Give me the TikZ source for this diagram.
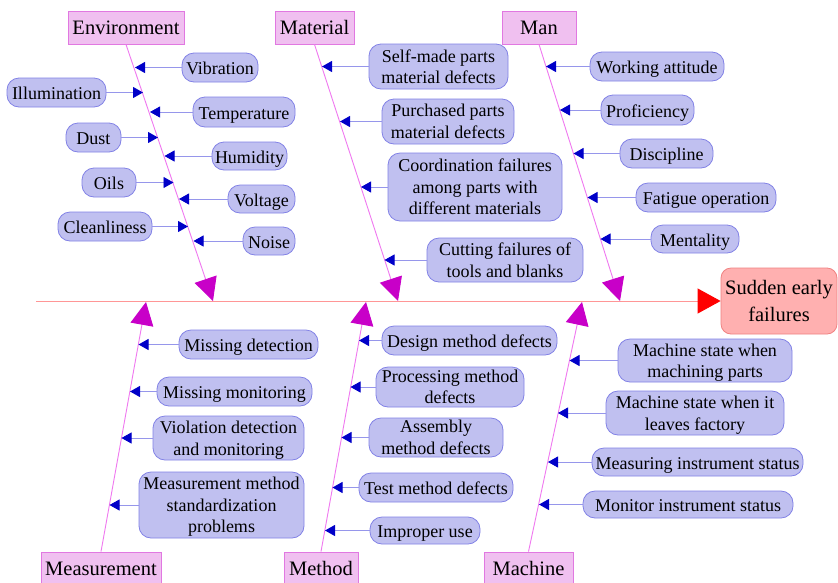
\documentclass[tikz,border=0pt]{standalone}
\usepackage{fontspec}
\setmainfont{Liberation Serif}
\newfontfamily\tnr{Liberation Serif}
\usetikzlibrary{arrows.meta}
\definecolor{cfill}{RGB}{192,192,240}
\definecolor{cdraw}{RGB}{130,130,230}
\definecolor{aline}{RGB}{150,150,235}
\definecolor{ahead}{RGB}{0,0,200}
\definecolor{kfill}{RGB}{240,192,240}
\definecolor{kdraw}{RGB}{225,120,225}
\definecolor{bline}{RGB}{240,120,240}
\definecolor{bhead}{RGB}{200,0,200}
\definecolor{sline}{RGB}{255,150,150}
\definecolor{efill}{RGB}{255,176,176}
\definecolor{edraw}{RGB}{240,130,130}
\tikzset{
 cause/.style={draw=cdraw, fill=cfill, rounded corners=12pt, line width=0.8pt, inner sep=0pt, align=center, font=\tnr\fontsize{18}{21.5}\selectfont},
 oneline/.style={text height=16pt, text depth=2pt},
 carrow/.style={draw=aline, line width=0.9pt, -{Triangle[length=10pt,width=11pt,color=ahead]}},
 cat/.style={draw=kdraw, fill=kfill, line width=0.8pt, inner sep=0pt, minimum height=33pt, text height=15.5pt, text depth=2.5pt, font=\tnr\fontsize{20.5}{25}\selectfont},
 bone/.style={draw=bline, line width=0.9pt, -{Triangle[length=23pt,width=23pt,color=bhead]}},
 spine/.style={draw=sline, line width=0.9pt, -{Triangle[length=23pt,width=25pt,color=red]}},
 effect/.style={draw=edraw, fill=efill, rounded corners=10pt, line width=0.8pt, inner sep=0pt, align=center, minimum width=116pt, minimum height=66pt, font=\tnr\fontsize{20.5}{26.5}\selectfont},
}
\newcommand\mkcause[8][]{%
 \node[cause,#1,minimum width=#5pt,minimum height=#6pt] (#2) at (#3,#4) {#8};
 \coordinate (t#2) at (#7,#4);
 \draw[carrow] (#2) -- (t#2);}
\begin{document}
\begin{tikzpicture}[x=1pt,y=-1pt]
\useasboundingbox (0,0) rectangle (838,582);
\fill[white] (0,0) rectangle (838,582);
% effect and spine
\node[effect] (eff) at (779,301) {Sudden early\\failures};
\coordinate (sstart) at (36,301);
\draw[spine] (sstart) -- (eff.west);
% categories
\node[cat, minimum width=116pt] (env) at (126,27.5) {Environment};
\node[cat, minimum width=79pt] (mat) at (314.5,27.5) {Material};
\node[cat, minimum width=74pt] (man) at (539,27.5) {Man};
\node[cat, minimum width=120pt] (meas) at (101,568.5) {Measurement};
\node[cat, minimum width=74pt] (meth) at (321,568.5) {Method};
\node[cat, minimum width=89pt] (mach) at (528.5,568.5) {Machine};
\coordinate (benv) at (213,301);
\coordinate (bmat) at (398,301);
\coordinate (bman) at (620,301);
\coordinate (bmeas) at (146,302);
\coordinate (bmeth) at (366,302);
\coordinate (bmach) at (582,302);
\draw[bone] (env.south) -- (benv);
\draw[bone] (mat.south) -- (bmat);
\draw[bone] (man.south) -- (bman);
\draw[bone] (meas.north) -- (bmeas);
\draw[bone] (meth.north) -- (bmeth);
\draw[bone] (mach.north) -- (bmach);
% Environment
\mkcause[oneline]{vib}{220}{67.5}{76}{29}{135}{Vibration}
\mkcause[oneline]{ill}{56.5}{92.5}{99}{29}{143}{Illumination}
\mkcause[oneline]{temp}{244}{112}{102}{30}{150}{Temperature}
\mkcause[oneline]{dust}{93.5}{137.5}{55}{29}{158}{Dust}
\mkcause[oneline]{hum}{249.5}{156}{75}{28}{164.5}{Humidity}
\mkcause[oneline]{oils}{109}{182.5}{54}{29}{173.5}{Oils}
\mkcause[oneline]{volt}{261.5}{199}{67}{28}{179}{Voltage}
\mkcause[oneline]{clean}{105}{226.5}{94}{29}{188}{Cleanliness}
\mkcause[oneline]{noise}{269}{241}{52}{28}{193.5}{Noise}
% Material
\mkcause{self}{438.5}{66.5}{139}{45}{322}{Self-made parts\\material defects}
\mkcause{purch}{448}{121.5}{132}{45}{340}{Purchased parts\\material defects}
\mkcause{coord}{475}{187}{174}{68}{361}{Coordination failures\\among parts with\\different materials}
\mkcause{cut}{505}{260}{156}{44}{384.5}{Cutting failures of\\tools and blanks}
% Man
\mkcause[oneline]{work}{657}{66.5}{134}{29}{546}{Working attitude}
\mkcause[oneline]{prof}{647.5}{110}{93}{30}{560}{Proficiency}
\mkcause[oneline]{disc}{666.5}{153.5}{93}{29}{573.5}{Discipline}
\mkcause[oneline]{fat}{706}{197.5}{140}{29}{587.5}{Fatigue operation}
\mkcause[oneline]{ment}{695}{239}{88}{28}{600.5}{Mentality}
% Measurement
\mkcause[oneline]{md}{248.5}{344.5}{139}{29}{138.5}{Missing detection}
\mkcause[oneline]{mm}{234.5}{391.5}{155}{29}{130}{Missing monitoring}
\mkcause{vdm}{228.5}{438}{151}{44}{121.5}{Violation detection\\\smash{and monitoring}}
\mkcause{mms}{221.5}{505}{165}{66}{109.5}{Measurement method\\standardization\\\smash{problems}}
% Method
\mkcause[oneline]{dmd}{469.5}{340.5}{175}{29}{359}{Design method defects}
\mkcause{pmd}{450}{387}{148}{40}{350.5}{Processing method\\defects}
\mkcause{amd}{436}{437.5}{134}{39}{341.5}{Assembly\\method defects}
\mkcause[oneline]{tmd}{436}{487.5}{154}{29}{332.5}{Test method defects}
\mkcause[oneline]{iu}{425}{530.5}{110}{27}{325}{Improper use}
% Machine
\mkcause{msm}{705}{360.5}{174}{43}{569.5}{Machine state when\\\smash{machining parts}}
\mkcause{msl}{695}{413}{178}{44}{558}{Machine state when it\\\smash{leaves factory}}
\mkcause[oneline]{mis}{697.5}{462}{211}{28}{548}{Measuring instrument status}
\mkcause[oneline]{mon}{688}{504.5}{210}{27}{539}{Monitor instrument status}
\end{tikzpicture}
\end{document}
